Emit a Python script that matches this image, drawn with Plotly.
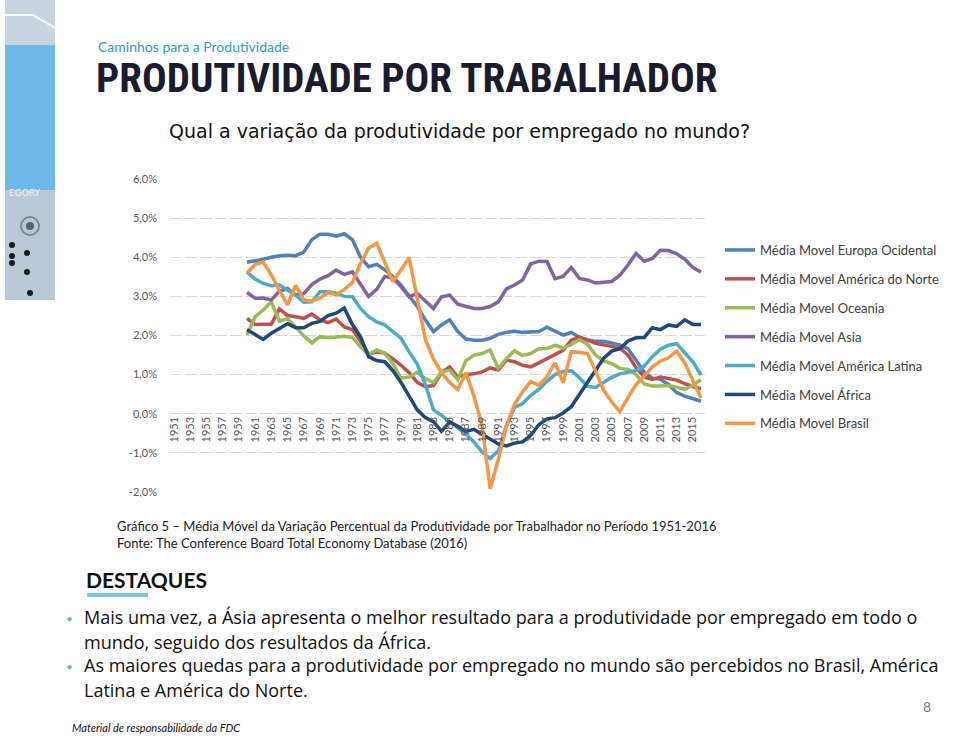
import plotly.graph_objects as go

# ---------------- data ----------------
years = list(range(1960, 2017))

europa = [3.87, 3.90, 3.95, 4.00, 4.04, 4.05, 4.04, 4.13, 4.45, 4.59,
          4.59, 4.54, 4.60, 4.45, 4.00, 3.76, 3.82, 3.68, 3.50, 3.29,
          3.00, 2.74, 2.40, 2.10, 2.27, 2.40, 2.10, 1.91, 1.88, 1.88,
          1.93, 2.03, 2.08, 2.11, 2.08, 2.09, 2.10, 2.21, 2.10, 2.01,
          2.08, 1.95, 1.89, 1.85, 1.85, 1.81, 1.76, 1.66, 1.37, 1.07,
          0.91, 0.88, 0.75, 0.54, 0.45, 0.38, 0.32]

america_norte = [2.44, 2.28, 2.29, 2.29, 2.68, 2.51, 2.48, 2.44, 2.55, 2.40,
                 2.33, 2.42, 2.22, 2.15, 1.85, 1.52, 1.58, 1.55, 1.40, 1.24,
                 1.05, 0.80, 0.69, 0.72, 1.05, 1.20, 0.94, 1.00, 1.02, 1.07,
                 1.17, 1.12, 1.37, 1.33, 1.24, 1.20, 1.30, 1.40, 1.50, 1.62,
                 1.88, 1.96, 1.88, 1.80, 1.76, 1.73, 1.68, 1.50, 1.18, 0.94,
                 0.88, 0.94, 0.90, 0.86, 0.77, 0.69, 0.64]

oceania = [2.01, 2.48, 2.65, 2.86, 2.37, 2.43, 2.22, 1.99, 1.81, 1.97,
           1.94, 1.97, 1.98, 1.95, 1.71, 1.52, 1.63, 1.55, 1.28, 0.91,
           0.94, 1.06, 0.90, 0.79, 1.07, 1.11, 0.87, 1.35, 1.50, 1.54,
           1.63, 1.16, 1.41, 1.61, 1.49, 1.54, 1.66, 1.67, 1.75, 1.68,
           1.77, 1.89, 1.78, 1.50, 1.35, 1.28, 1.16, 1.13, 1.00, 0.76,
           0.71, 0.71, 0.72, 0.68, 0.62, 0.73, 0.87]

asia = [3.10, 2.95, 2.96, 2.91, 3.13, 3.20, 3.04, 3.07, 3.30, 3.44,
        3.53, 3.67, 3.56, 3.63, 3.31, 3.00, 3.18, 3.51, 3.46, 3.25,
        2.99, 3.08, 2.88, 2.69, 2.99, 3.03, 2.80, 2.74, 2.69, 2.69,
        2.74, 2.86, 3.19, 3.29, 3.42, 3.83, 3.90, 3.89, 3.45, 3.51,
        3.74, 3.46, 3.42, 3.34, 3.35, 3.38, 3.54, 3.80, 4.10, 3.90,
        3.97, 4.18, 4.17, 4.09, 3.95, 3.74, 3.62]

america_latina = [3.62, 3.44, 3.33, 3.27, 3.29, 3.16, 3.03, 2.85, 2.86, 3.12,
                  3.12, 3.08, 3.00, 2.99, 2.69, 2.48, 2.35, 2.27, 2.11, 1.93,
                  1.58, 1.27, 0.75, 0.10, -0.04, -0.21, -0.36, -0.52, -0.72, -0.98,
                  -1.14, -0.95, -0.30, 0.16, 0.26, 0.47, 0.62, 0.83, 1.00, 1.08,
                  1.10, 0.92, 0.70, 0.67, 0.80, 0.93, 1.02, 1.07, 1.10, 1.22,
                  1.46, 1.65, 1.75, 1.79, 1.55, 1.33, 0.99]

africa = [2.15, 2.02, 1.90, 2.06, 2.18, 2.30, 2.20, 2.20, 2.31, 2.36,
          2.51, 2.57, 2.70, 2.28, 1.97, 1.46, 1.36, 1.33, 1.10, 0.80,
          0.45, 0.10, -0.10, -0.20, -0.45, -0.21, -0.32, -0.45, -0.40, -0.52,
          -0.65, -0.77, -0.82, -0.75, -0.72, -0.55, -0.28, -0.13, -0.10, 0.02,
          0.18, 0.50, 0.82, 1.13, 1.42, 1.60, 1.66, 1.86, 1.94, 1.95,
          2.20, 2.15, 2.27, 2.23, 2.40, 2.28, 2.28]

brasil = [3.59, 3.82, 3.88, 3.55, 3.15, 2.78, 3.28, 2.91, 2.88, 2.96,
          3.10, 3.04, 3.18, 3.35, 3.84, 4.23, 4.36, 3.85, 3.38, 3.68,
          3.99, 2.95, 1.90, 1.40, 1.05, 0.80, 0.62, 1.05, 0.45, -0.30,
          -1.92, -1.17, -0.32, 0.24, 0.56, 0.82, 0.73, 0.94, 1.30, 0.79,
          1.58, 1.57, 1.54, 1.09, 0.60, 0.30, 0.05, 0.42, 0.75, 0.96,
          1.20, 1.35, 1.43, 1.60, 1.30, 0.85, 0.40]

series_names = ["Média Movel Europa Ocidental", "Média Movel América do Norte",
                "Média Movel Oceania", "Média Movel Asia",
                "Média Movel América Latina", "Média Movel África",
                "Média Movel Brasil"]
series_values = [europa, america_norte, oceania, asia, america_latina, africa, brasil]
series_colors = ["#4F81BD", "#C0504D", "#9BBB59", "#8064A2", "#4BACC6", "#1F497D", "#F79646"]

year_ticks = list(range(1951, 2016, 2))
year_labels = [str(y) for y in year_ticks]
y_ticks = [-2, -1, 0, 1, 2, 3, 4, 5, 6]
y_labels = ["-2,0%", "-1,0%", "0,0%", "1,0%", "2,0%", "3,0%", "4,0%", "5,0%", "6,0%"]

# ---------------- layout helpers ----------------
W, H = 960, 740
def fx(x):
    return x / W
def fy(y):
    return 1 - y / H

plot_left, plot_right = 170, 705
plot_top, plot_bottom = 179, 492
ydom = [fy(plot_bottom), fy(plot_top)]
zero_pos = ydom[0] + (0 - (-2)) / 8 * (ydom[1] - ydom[0])

fig = go.Figure()
for name, vals, col in zip(series_names, series_values, series_colors):
    fig.add_trace(go.Scatter(x=years, y=vals, mode="lines", name=name,
                             legendgroup=name,
                             line=dict(color=col, width=3.5)))

GRAY = "#595959"
fig.update_layout(
    width=W, height=H,
    margin=dict(l=0, r=0, t=0, b=0),
    paper_bgcolor="white", plot_bgcolor="white",
    font=dict(family="Lato, 'Open Sans', sans-serif", color="#333"),
    xaxis=dict(domain=[fx(plot_left), fx(plot_right)], range=[1950.5, 2016.5],
               tickvals=year_ticks, ticktext=year_labels, tickangle=-90,
               anchor="free", position=zero_pos,
               showgrid=False, zeroline=False, showline=False, ticks="",
               tickfont=dict(size=11, color=GRAY), automargin=False),
    yaxis=dict(domain=ydom, range=[-2, 6], tickvals=y_ticks, ticktext=y_labels,
               showgrid=True, gridcolor="#d9d9d9", gridwidth=1, griddash="12px,3px",
               zeroline=False, showline=False, ticks="",
               ticklabelstandoff=12,
               tickfont=dict(size=11, color=GRAY), automargin=False),
    legend=dict(x=fx(720), y=fy(235), xanchor="left", yanchor="top",
                font=dict(size=13, color="#404040"), bgcolor="rgba(0,0,0,0)",
                tracegroupgap=9, itemwidth=30),
)

shapes = []
# left decorative strip
shapes.append(dict(type="rect", xref="paper", yref="paper", x0=fx(5), x1=fx(55), y0=fy(45), y1=fy(0),
                   fillcolor="#c8d5e0", line=dict(width=0), layer="below"))
shapes.append(dict(type="path", xref="paper", yref="paper",
                   path=f"M {fx(5)} {fy(15)} L {fx(33)} {fy(15)} L {fx(55)} {fy(28)}",
                   line=dict(color="white", width=2)))
shapes.append(dict(type="rect", xref="paper", yref="paper", x0=fx(5), x1=fx(55), y0=fy(190), y1=fy(45),
                   fillcolor="#6fb9ea", line=dict(width=0), layer="below"))
shapes.append(dict(type="rect", xref="paper", yref="paper", x0=fx(5), x1=fx(55), y0=fy(300), y1=fy(190),
                   fillcolor="#b9c9d7", line=dict(width=0), layer="below"))
shapes.append(dict(type="circle", xref="paper", yref="paper", x0=fx(21), x1=fx(39), y0=fy(235), y1=fy(217),
                   line=dict(color="#7d8a95", width=2), fillcolor="rgba(0,0,0,0)"))
shapes.append(dict(type="circle", xref="paper", yref="paper", x0=fx(26), x1=fx(34), y0=fy(230), y1=fy(222),
                   line=dict(width=0), fillcolor="#59636b"))
for cx, cy in [(12, 245), (12, 256), (12, 263), (27, 253), (27, 272), (30, 293)]:
    shapes.append(dict(type="circle", xref="paper", yref="paper", x0=fx(cx - 3), x1=fx(cx + 3),
                       y0=fy(cy + 3), y1=fy(cy - 3), line=dict(width=0), fillcolor="#1a1a1a"))
# DESTAQUES underline
shapes.append(dict(type="rect", xref="paper", yref="paper", x0=fx(87), x1=fx(148), y0=fy(597), y1=fy(593),
                   fillcolor="#7cc6ea", line=dict(width=0)))

ann = []
def text(x, y, s, size, color="#000", family="Lato, sans-serif", xanchor="left", bold=False, italic=False):
    if bold:
        s = f"<b>{s}</b>"
    if italic:
        s = f"<i>{s}</i>"
    ann.append(dict(x=fx(x), y=fy(y), xref="paper", yref="paper", text=s, showarrow=False,
                    xanchor=xanchor, yanchor="middle", font=dict(size=size, color=color, family=family)))

text(7, 193, "EGORY", 9, color="#eef2f5", family="DejaVu Sans")
text(96, 46, "Caminhos para a Produtividade", 14, color="#3399cc", family="Lato, sans-serif")
text(94, 78, "PRODUTIVIDADE POR TRABALHADOR", 41, color="#1b1b2f",
     family="'Liberation Sans Narrow', 'Roboto Condensed', Roboto, sans-serif", bold=True)
text(167, 131, "Qual a variação da produtividade por empregado no mundo?", 19, color="#111",
     family="'DejaVu Sans', sans-serif")
text(115, 526, "Gráfico 5 – Média Móvel da Variação Percentual da Produtividade por Trabalhador no Período 1951-2016",
     13, color="#222")
text(115, 543, "Fonte: The Conference Board Total Economy Database (2016)", 13, color="#222")
text(84, 579, "DESTAQUES", 21, color="#111", family="'Liberation Sans Narrow', Lato, sans-serif", bold=True)
BUL = "'Open Sans', sans-serif"
text(64, 618, "•", 12, color="#7fb3d5")
text(64, 666, "•", 12, color="#7fb3d5")
text(82, 617, "Mais uma vez, a Ásia apresenta o melhor resultado para a produtividade por empregado em todo o",
     18, color="#111", family=BUL)
text(82, 642, "mundo, seguido dos resultados da África.", 18, color="#111", family=BUL)
text(82, 665, "As maiores quedas para a produtividade por empregado no mundo são percebidos no Brasil, América",
     18, color="#111", family=BUL)
text(82, 690, "Latina e América do Norte.", 18, color="#111", family=BUL)
text(921, 706, "8", 14, color="#777")
text(70, 727, "Material de responsabilidade da FDC", 11, color="#111", italic=True)

fig.update_layout(shapes=shapes, annotations=ann)
fig.write_html("out.html", config={"displayModeBar": False},
               post_script="document.body.style.margin='0';document.body.style.overflow='hidden';")
